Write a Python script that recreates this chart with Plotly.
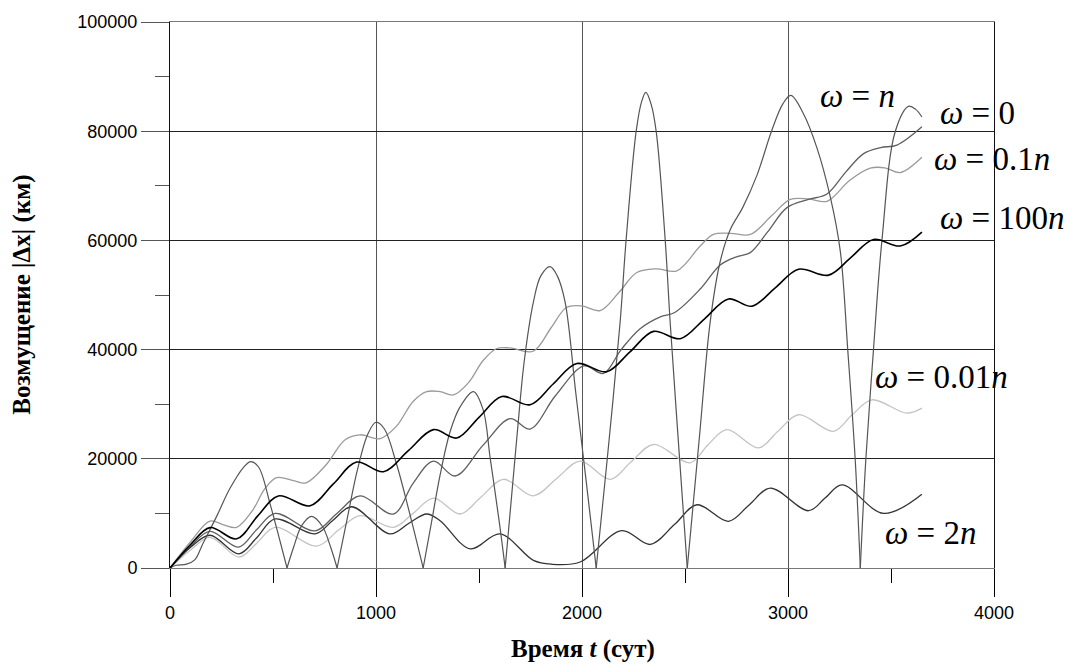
import plotly.graph_objects as go

# ---- perturbation |dx| (km) versus time t (days) for several rotation rates ----

# omega = 100n
t_100n = [0, 100, 194, 324, 425, 526, 680, 793, 906, 1036, 1157, 1279, 1392, 1500, 1611, 1748, 1860,
          1975, 2120, 2233, 2347, 2477, 2594, 2711, 2825, 2938, 3051, 3197, 3306, 3415, 3545, 3650]
v_100n = [0, 4300, 7400, 5340, 9500, 13200, 11400, 15400, 19400, 17640, 21500, 25340, 23800, 27600,
          31400, 29900, 33700, 37450, 35950, 39600, 43340, 42000, 45600, 49270, 47950, 51300, 54730,
          53640, 56900, 60180, 58980, 61530]

# omega = 0
t_0 = [0, 100, 194, 332, 420, 510, 704, 810, 923, 1084, 1180, 1279, 1384, 1520, 1651, 1748, 1870, 2010,
       2104, 2190, 2282, 2380, 2450, 2574, 2671, 2750, 2817, 2900, 2995, 3100, 3189, 3280, 3367, 3450,
       3529, 3650]
v_0 = [0, 4000, 6700, 3820, 7000, 10000, 6800, 10000, 13200, 9880, 15500, 19580, 16850, 22500, 27340,
       25450, 31500, 37000, 35640, 40000, 43820, 46000, 46800, 51090, 55500, 57000, 57760, 61500, 66000,
       67500, 68500, 72500, 75900, 77000, 77460, 80800]

# omega = 0.1n
t_01n = [0, 100, 194, 260, 324, 400, 460, 518, 600, 660, 760, 850, 923, 1020, 1100, 1180, 1246, 1311,
         1376, 1450, 1520, 1586, 1650, 1763, 1850, 1926, 2000, 2088, 2180, 2266, 2360, 2460, 2574, 2638,
         2720, 2817, 2920, 3011, 3100, 3189, 3300, 3399, 3470, 3545, 3650]
v_01n = [0, 4800, 8600, 7900, 7460, 10500, 14500, 16550, 16000, 15600, 19000, 23500, 24400, 23700,
         26000, 30500, 32300, 32300, 31700, 34000, 38000, 40200, 40300, 39700, 44000, 47760, 48000,
         47150, 50500, 54130, 54800, 54430, 58980, 61090, 61300, 61090, 64500, 67500, 67600, 67160,
         71000, 73220, 73300, 72430, 75220]

# omega = 0.01n
t_001n = [0, 100, 194, 335, 420, 510, 712, 820, 923, 1084, 1180, 1279, 1408, 1510, 1619, 1764, 1880,
          1991, 2137, 2240, 2347, 2525, 2610, 2703, 2857, 2950, 3051, 3221, 3310, 3407, 3577, 3650]
v_001n = [0, 3300, 5600, 2000, 4500, 7460, 4000, 7000, 9580, 7460, 10000, 12800, 9890, 13000, 16250,
          13220, 16500, 19580, 16250, 19500, 22620, 19270, 22500, 25340, 22000, 25000, 28070, 25040,
          28000, 30800, 28360, 29270]

# omega = 2n
t_2n = [0, 100, 194, 335, 420, 510, 704, 790, 882, 1068, 1160, 1246, 1311, 1457, 1602, 1764, 1850,
        1991, 2193, 2331, 2450, 2558, 2711, 2810, 2914, 3100, 3180, 3262, 3464, 3650]
v_2n = [0, 3800, 6000, 2600, 5500, 8980, 6250, 8700, 11220, 6250, 8200, 9890, 8670, 3520, 6250, 1400,
        700, 1100, 6850, 4310, 8000, 11580, 8550, 11500, 14620, 10490, 12800, 15220, 10000, 13520]

# omega = n : arches between successive zeros of |dx|
arches_n_t = [
    [0, 30, 80, 120, 160, 227, 290, 356, 392, 430, 486, 530, 568],
    [568, 600, 640, 688, 740, 780, 811],
    [811, 860, 910, 960, 1000, 1040, 1100, 1160, 1229],
    [1229, 1270, 1311, 1360, 1408, 1473, 1520, 1554, 1600, 1627],
    [1627, 1684, 1720, 1764, 1800, 1845, 1880, 1918, 1970, 2020, 2069],
    [2069, 2120, 2185, 2214, 2263, 2290, 2310, 2335, 2360, 2404, 2428, 2470, 2511],
    [2511, 2570, 2622, 2670, 2720, 2780, 2850, 2920, 2975, 3014, 3075, 3140, 3205, 3254, 3290, 3326, 3351],
    [3351, 3378, 3415, 3456, 3521, 3585, 3620, 3650],
]
arches_n_v = [
    [0, 500, 700, 1500, 4500, 9500, 14500, 18400, 19500, 18500, 11700, 5500, 0],
    [0, 3800, 7800, 9450, 7600, 3800, 0],
    [0, 9000, 18000, 24500, 26700, 25500, 19000, 10500, 0],
    [0, 8500, 17000, 25000, 29500, 32300, 29000, 20200, 8000, 0],
    [0, 24000, 38000, 48700, 53500, 55200, 53500, 48700, 32000, 16000, 0],
    [0, 19000, 45000, 60000, 80000, 85500, 87100, 85000, 80000, 60000, 45000, 22000, 0],
    [0, 24000, 45000, 56000, 62000, 66000, 72000, 80000, 85000, 86550, 83200, 77000, 68000, 58000, 40000, 20000, 0],
    [0, 20000, 40000, 60000, 80000, 84550, 84000, 82600],
]

x_ticks = [0, 1000, 2000, 3000, 4000]
y_ticks = [0, 20000, 40000, 60000, 80000, 100000]

# joined arches (separate spline pieces so the zeros stay sharp)
t_n, v_n = [], []
for ts, vs in zip(arches_n_t, arches_n_v):
    t_n += ts + [None]
    v_n += vs + [None]

fig = go.Figure()

def add(t, v, color, width):
    fig.add_trace(go.Scatter(x=t, y=v, mode="lines", showlegend=False, connectgaps=False,
                             line=dict(color=color, width=width, shape="spline", smoothing=1.0),
                             hoverinfo="skip"))

add(t_001n, v_001n, "#c4c4c4", 1.3)
add(t_01n, v_01n, "#9a9a9a", 1.3)
add(t_0, v_0, "#5f5f5f", 1.3)
add(t_2n, v_2n, "#333333", 1.3)
add(t_n, v_n, "#555555", 1.2)
add(t_100n, v_100n, "#000000", 1.6)

serif = "Liberation Serif, Times New Roman, serif"
labels = [
    ("<i>ω</i> = <i>n</i>", 3147, 86490),
    ("<i>ω</i> = 0", 3729, 83400),
    ("<i>ω</i> = 0.1<i>n</i>", 3700, 74850),
    ("<i>ω</i> = 100<i>n</i>", 3729, 64130),
    ("<i>ω</i> = 0.01<i>n</i>", 3414, 35040),
    ("<i>ω</i> = 2<i>n</i>", 3462, 6490),
]
for txt, lx, ly in labels:
    fig.add_annotation(x=lx, y=ly, xref="x", yref="y", text=txt, showarrow=False,
                       xanchor="left", yanchor="middle",
                       font=dict(family=serif, size=33, color="#000"))

fig.add_annotation(x=-0.18, y=0.5, xref="paper", yref="paper", textangle=-90,
                   text="<b>Возмущение |Δx| (км)</b>", showarrow=False,
                   xanchor="center", yanchor="middle",
                   font=dict(family=serif, size=25, color="#000"))
fig.add_annotation(x=0.501, y=-0.149, xref="paper", yref="paper",
                   text="<b>Время <i>t</i> (сут)</b>", showarrow=False,
                   xanchor="center", yanchor="middle",
                   font=dict(family=serif, size=25, color="#000"))

tickfont = dict(family="Liberation Sans, Arial, sans-serif", size=18, color="#000")
fig.update_xaxes(range=[0, 4000], tickvals=x_ticks, ticks="outside", ticklen=28, tickwidth=1,
                 tickcolor="#000", tickfont=tickfont, showgrid=True, gridcolor="#555", gridwidth=1,
                 showline=True, linecolor="#777", linewidth=1, mirror=True, zeroline=False,
                 minor=dict(dtick=500, ticks="outside", ticklen=14, tickcolor="#000", showgrid=False))
fig.update_yaxes(range=[0, 100000], tickvals=y_ticks, tickformat="d", ticks="outside", ticklen=28,
                 tickwidth=1, tickcolor="#555", tickfont=tickfont, showgrid=True, gridcolor="#222",
                 gridwidth=1, showline=True, linecolor="#111", linewidth=1, mirror=True, zeroline=False,
                 minor=dict(dtick=10000, ticks="outside", ticklen=14, tickcolor="#555", showgrid=False))

fig.update_layout(width=1072, height=666, plot_bgcolor="#fff", paper_bgcolor="#fff",
                  margin=dict(l=170, r=78, t=18, b=98))

fig.write_html("out.html")
